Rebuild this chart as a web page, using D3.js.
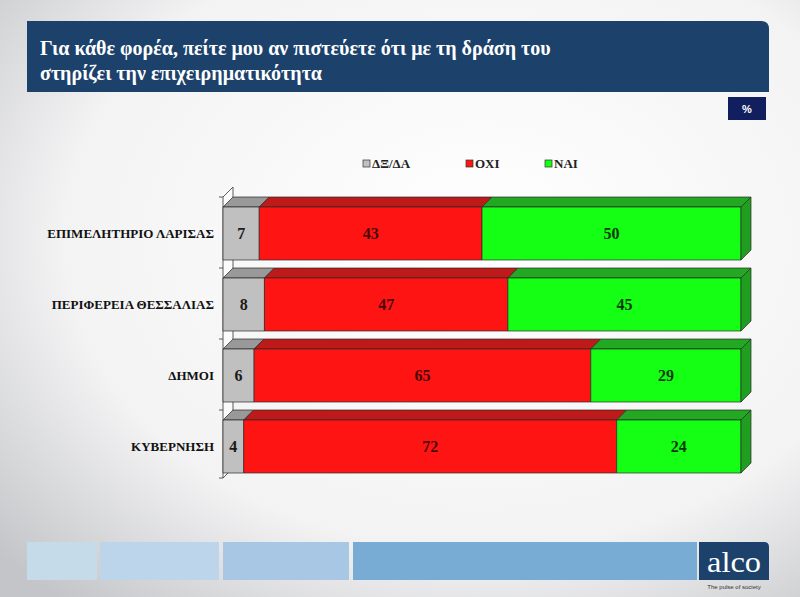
<!DOCTYPE html>
<html>
<head>
<meta charset="utf-8">
<script src="https://cdn.jsdelivr.net/npm/d3@7"></script>
<style>
body { margin: 0; padding: 0; overflow: hidden; }
svg { display: block; }
</style>
</head>
<body>
<svg id="chart" width="800" height="597"></svg>
<script>
// data
var categories = ["ΕΠΙΜΕΛΗΤΗΡΙΟ ΛΑΡΙΣΑΣ", "ΠΕΡΙΦΕΡΕΙΑ ΘΕΣΣΑΛΙΑΣ", "ΔΗΜΟΙ", "ΚΥΒΕΡΝΗΣΗ"];
var seriesNames = ["ΔΞ/ΔΑ", "ΟΧΙ", "ΝΑΙ"];
var dkna = [7, 8, 6, 4];
var oxi = [43, 47, 65, 72];
var nai = [50, 45, 29, 24];

var titleLines = ["Για κάθε φορέα, πείτε μου αν πιστεύετε ότι με τη δράση του",
    "στηρίζει την επιχειρηματικότητα"];

var front = ["#c0c0c0", "#ff1414", "#14ff14"];
var topc = ["#999999", "#bf1a1a", "#23a823"];
var sidec = ["#8a8a8a", "#a01414", "#1f9e1f"];
var labelc = ["#1a1a1a", "#4a0a0a", "#0a3a0a"];

var svg = d3.select("#chart"),
    width = +svg.attr("width"),
    height = +svg.attr("height");

var defs = svg.append("defs");
var bg = defs.append("radialGradient").attr("id", "bg")
    .attr("cx", "60%").attr("cy", "40%").attr("r", "80%");
bg.append("stop").attr("offset", "0%").attr("stop-color", "#ffffff");
bg.append("stop").attr("offset", "65%").attr("stop-color", "#f3f3f4");
bg.append("stop").attr("offset", "100%").attr("stop-color", "#c4c5c8");

svg.append("rect").attr("width", width).attr("height", height).attr("fill", "url(#bg)");

// title box
svg.append("path")
    .attr("d", "M27,21 H761 Q769,21 769,29 V92 H27 Z")
    .attr("fill", "#1c426c");
svg.append("text")
    .attr("x", 40).attr("y", 55)
    .style("font-family", "Liberation Serif").style("font-weight", "bold")
    .style("font-size", "20px").attr("fill", "#ffffff")
    .selectAll("tspan").data(titleLines).enter().append("tspan")
    .attr("x", 40).attr("dy", function(d, i) { return i ? 25 : 0; })
    .text(function(d) { return d; });

svg.append("rect").attr("x", 728).attr("y", 97).attr("width", 38).attr("height", 23).attr("fill", "#121f5e");
svg.append("text").attr("x", 747).attr("y", 113).attr("text-anchor", "middle")
    .style("font-family", "Liberation Sans").style("font-weight", "bold").style("font-size", "11px")
    .attr("fill", "#ffffff").text("%");

// legend
var legendX = [363, 466, 545];
var lg = svg.append("g").selectAll("g").data(seriesNames).enter().append("g")
    .attr("transform", function(d, i) { return "translate(" + legendX[i] + ",166)"; });
lg.append("rect").attr("x", 0).attr("y", -6).attr("width", 7).attr("height", 7)
    .attr("fill", function(d, i) { return front[i]; }).attr("stroke", "#333").attr("stroke-width", 0.7);
lg.append("text").attr("x", 9).attr("y", 1.5)
    .style("font-family", "Liberation Serif").style("font-weight", "bold").style("font-size", "13px")
    .attr("fill", "#222").text(function(d) { return d; });

// scales
var dx = 10, dy = 10;
var x = d3.scaleLinear().domain([0, 100]).range([223, 741]);
var y = d3.scaleBand().domain(categories).range([197, 481]).paddingInner(0).paddingOuter(0);
var barH = 53;

// wall
var wall = svg.append("g").attr("fill", "none").attr("stroke", "#333").attr("stroke-width", 0.8);
wall.append("path").attr("d", "M223,478 V197 L" + (223 + dx) + "," + (197 - dy) + " V" + (478 - dy))
    .attr("fill", "#ffffff").attr("fill-opacity", 0.6);
wall.append("path").attr("d", "M223,478 L" + (223 + dx) + "," + (478 - dy));
wall.selectAll("line.tick").data(d3.range(categories.length + 1)).enter().append("line")
    .attr("x1", 219).attr("x2", 223)
    .attr("y1", function(i) { return Math.min(197 + i * y.step(), 478); })
    .attr("y2", function(i) { return Math.min(197 + i * y.step(), 478); });

// stacked segments
var rows = categories.map(function(c, i) {
    var vals = [dkna[i], oxi[i], nai[i]];
    var acc = 0;
    return vals.map(function(v, k) {
        var s = {cat: c, k: k, v: v, x0: acc, x1: acc + v};
        acc += v;
        return s;
    });
});
var segs = [].concat.apply([], rows);

var g = svg.append("g").attr("stroke", "#2a2a2a").attr("stroke-width", 0.7).attr("stroke-linejoin", "round");
var seg = g.selectAll("g.seg").data(segs).enter().append("g");

seg.append("path")
    .attr("d", function(d) {
        var a = x(d.x0), b = x(d.x1), t = y(d.cat) + dy;
        return "M" + a + "," + t + " L" + (a + dx) + "," + (t - dy) + " H" + (b + dx) + " L" + b + "," + t + " Z";
    })
    .attr("fill", function(d) { return topc[d.k]; });

seg.append("rect")
    .attr("x", function(d) { return x(d.x0); })
    .attr("y", function(d) { return y(d.cat) + dy; })
    .attr("width", function(d) { return x(d.x1) - x(d.x0); })
    .attr("height", barH)
    .attr("fill", function(d) { return front[d.k]; });

seg.filter(function(d) { return d.k === 2; }).append("path")
    .attr("d", function(d) {
        var b = x(d.x1), t = y(d.cat) + dy;
        return "M" + b + "," + t + " L" + (b + dx) + "," + (t - dy) + " V" + (t - dy + barH) + " L" + b + "," + (t + barH) + " Z";
    })
    .attr("fill", function(d) { return sidec[d.k]; });

seg.append("text")
    .attr("x", function(d) { return (x(d.x0) + x(d.x1)) / 2; })
    .attr("y", function(d) { return y(d.cat) + dy + barH / 2 + 5; })
    .attr("text-anchor", "middle").attr("stroke", "none")
    .style("font-family", "Liberation Serif").style("font-weight", "bold").style("font-size", "16px")
    .attr("fill", function(d) { return labelc[d.k]; })
    .text(function(d) { return d.v; });

// category labels
svg.append("g").selectAll("text").data(categories).enter().append("text")
    .attr("x", 214)
    .attr("y", function(d) { return y(d) + dy + barH / 2 + 4; })
    .attr("text-anchor", "end")
    .style("font-family", "Liberation Serif").style("font-weight", "bold").style("font-size", "13px")
    .attr("fill", "#111").text(function(d) { return d; });

// footer
var foot = [[27, 97, "#c6dbe9"], [100, 219, "#bdd5ea"], [223, 349, "#a8c7e4"], [353, 697, "#78acd4"]];
svg.append("g").selectAll("rect").data(foot).enter().append("rect")
    .attr("x", function(d) { return d[0]; }).attr("y", 542)
    .attr("width", function(d) { return d[1] - d[0]; }).attr("height", 38)
    .attr("fill", function(d) { return d[2]; });
svg.append("path").attr("d", "M699,542 H764 Q769,542 769,547 V580 H699 Z").attr("fill", "#1c426c");
svg.append("text").attr("x", 734).attr("y", 572).attr("text-anchor", "middle")
    .style("font-family", "Liberation Serif").style("font-size", "30px").attr("fill", "#ffffff")
    .attr("textLength", 54).attr("lengthAdjust", "spacingAndGlyphs")
    .text("alco");
svg.append("text").attr("x", 734).attr("y", 589).attr("text-anchor", "middle")
    .style("font-family", "Liberation Sans Narrow, Liberation Sans").style("font-size", "6px").attr("fill", "#333")
    .text("The pulse of society");
</script>
</body>
</html>
